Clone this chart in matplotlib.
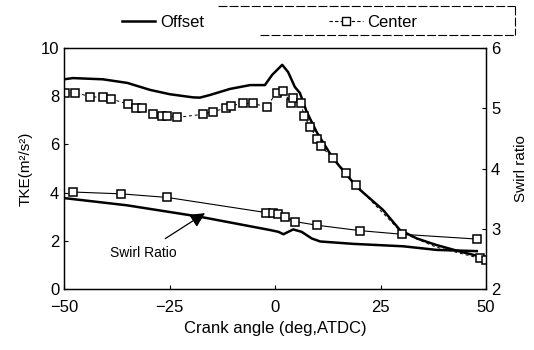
import matplotlib
matplotlib.use('Agg')
import matplotlib.pyplot as plt
from matplotlib.lines import Line2D

plt.rcParams['font.family'] = ['Liberation Sans', 'DejaVu Sans']

# Offset - TKE (thick solid)
offset_tke_x = [-50, -47.9, -40.8, -35, -29.6, -24.9, -19.4, -17.8, -15.4, -10.7, -5.9,
                -2.4, -0.7, 1.7, 3.1, 4.7, 5.9, 7.5, 9.9, 13.7, 19.4, 25.6, 29.6, 33.6, 38.2, 44, 50]
offset_tke = [8.70, 8.75, 8.70, 8.55, 8.26, 8.08, 7.95, 7.94, 8.05, 8.30, 8.46,
              8.46, 8.88, 9.30, 9.0, 8.38, 8.13, 7.35, 6.5, 5.43, 4.23, 3.28, 2.45, 2.10, 1.83, 1.55, 1.29]

# Center - TKE (squares)
center_tke_x = [-49.8, -47.4, -43.8, -40.8, -38.9, -34.8, -32.9, -31.6, -29.0, -26.9, -25.5, -23.2,
                -17.0, -14.8, -11.6, -10.5, -7.7, -5.3, -2.0, 0.4, 1.8, 3.9, 4.3, 6.1, 6.9, 8.3,
                10.0, 10.8, 13.8, 16.8, 19.1, 30.0, 38.0, 48.6, 50.0]
center_tke = [8.12, 8.15, 7.98, 7.95, 7.88, 7.68, 7.52, 7.50, 7.25, 7.18, 7.18, 7.12,
              7.25, 7.36, 7.50, 7.60, 7.70, 7.70, 7.56, 8.15, 8.23, 7.70, 7.91, 7.73, 7.18, 6.73,
              6.21, 5.93, 5.42, 4.83, 4.32, 2.35, 1.75, 1.27, 1.20]
center_tke_marked = [i for i, x in enumerate(center_tke_x) if x not in (30.0, 38.0)]

# Offset - swirl ratio (thick solid)
offset_swirl_x = [-50, -35.1, -17.8, -1.2, 0.8, 2.0, 4.3, 6.3, 8.7, 10.7, 18.6, 30.4, 38.3, 47.8]
offset_swirl = [3.51, 3.39, 3.20, 2.98, 2.95, 2.91, 2.99, 2.95, 2.84, 2.79, 2.75, 2.71, 2.65, 2.63]

# Center - swirl ratio (squares)
center_swirl_x = [-47.8, -36.5, -25.5, -2.2, -0.6, 0.8, 2.4, 4.7, 9.9, 20.1, 30.0, 47.8]
center_swirl = [3.61, 3.58, 3.52, 3.27, 3.26, 3.24, 3.20, 3.12, 3.06, 2.97, 2.91, 2.83]

x_ticks = [-50, -25, 0, 25, 50]
tke_ticks = [0, 2, 4, 6, 8, 10]
swirl_ticks = [2, 3, 4, 5, 6]

fig = plt.figure(figsize=(5.34, 3.5), dpi=100)
ax = fig.add_axes([0.1199, 0.174, 0.7903, 0.689])
ax2 = ax.twinx()

ax.plot(offset_tke_x, offset_tke, color='black', lw=1.8)
ax.plot(center_tke_x, center_tke, color='black', lw=0.7, ls=(0, (3, 3)),
        marker='s', markevery=center_tke_marked, ms=6, mfc='white', mec='black', mew=1.1)
ax2.plot(offset_swirl_x, offset_swirl, color='black', lw=1.8)
ax2.plot(center_swirl_x, center_swirl, color='black', lw=0.8,
         marker='s', ms=6, mfc='white', mec='black', mew=1.1)

ax.set_xlim(-50, 50)
ax.set_ylim(0, 10)
ax2.set_ylim(2, 6)
ax.set_xticks(x_ticks)
ax.set_yticks(tke_ticks)
ax2.set_yticks(swirl_ticks)

for a in (ax, ax2):
    a.tick_params(direction='in', length=3, labelsize=12, width=0.8)
    for s in a.spines.values():
        s.set_linewidth(0.9)
ax.tick_params(axis='x', pad=8)

ax.set_xlabel('Crank angle (deg,ATDC)', fontsize=12, labelpad=4)
ax.set_ylabel('TKE(m²/s²)', fontsize=11, labelpad=6)
ax2.set_ylabel('Swirl ratio', fontsize=11, labelpad=10)

ax.annotate('Swirl Ratio', xy=(-16.6, 3.15), xytext=(-31.3, 1.5),
            fontsize=10, ha='center', va='center',
            arrowprops=dict(arrowstyle='-|>', color='black', lw=0.9,
                            mutation_scale=22, shrinkA=6, shrinkB=0))

handles = [Line2D([], [], color='black', lw=1.8),
           Line2D([], [], color='black', lw=0.8, ls=(0, (3, 2)), marker='s', ms=6,
                  mfc='white', mec='black', mew=1.0)]
fig.legend(handles, ['Offset', 'Center'], ncol=2, loc='center',
           bbox_to_anchor=(0.505, 0.937), frameon=False, fontsize=12,
           handlelength=2.0, handletextpad=0.3, columnspacing=7.5)

# partial legend box
box_kw = dict(color='black', lw=0.8, ls=(0, (8, 2)), transform=fig.transFigure)
fig.add_artist(Line2D([218 / 534, 515 / 534], [1 - 6 / 350, 1 - 6 / 350], **box_kw))
fig.add_artist(Line2D([515 / 534, 515 / 534], [1 - 6 / 350, 1 - 35 / 350], **box_kw))
fig.add_artist(Line2D([260 / 534, 515 / 534], [1 - 35 / 350, 1 - 35 / 350], **box_kw))

fig.savefig('out.png', dpi=100)
